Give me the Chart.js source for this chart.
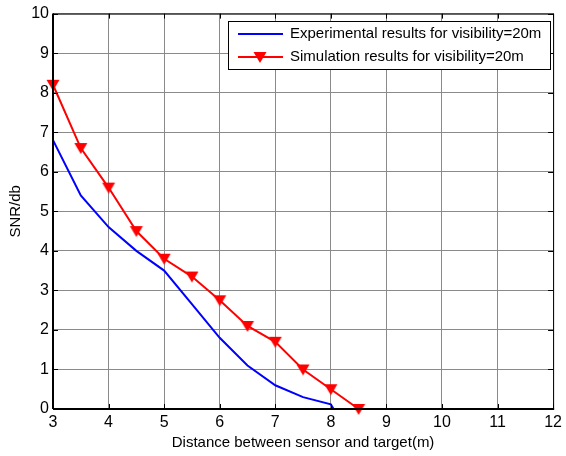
<!DOCTYPE html>
<html><head><meta charset="utf-8">
<script src="https://cdn.jsdelivr.net/npm/chart.js@4"></script>
<style>html,body{margin:0;padding:0;background:#fff}#wrap{width:566px;height:456px}</style>
</head><body><div id="wrap"><canvas id="c" width="566" height="456"></canvas></div>
<script>
const expX = [3, 3.5, 4, 4.5, 5, 5.5, 6, 6.5, 7, 7.5, 8, 8.05];
const expY = [6.8, 5.4, 4.6, 4.0, 3.5, 2.65, 1.8, 1.1, 0.6, 0.3, 0.12, 0];
const simX = [3, 3.5, 4, 4.5, 5, 5.5, 6, 6.5, 7, 7.5, 8, 8.5];
const simY = [8.2, 6.6, 5.6, 4.5, 3.8, 3.35, 2.75, 2.1, 1.7, 1.0, 0.5, 0];
const labels = ["Experimental results for visibility=20m", "Simulation results for visibility=20m"];
const xTitle = "Distance between sensor and target(m)";
const yTitle = "SNR/db";

const FONT = "'Liberation Sans', Arial, sans-serif";

const boxPlugin = {
  id: 'box',
  afterDatasetsDraw(chart) {
    const {ctx, chartArea: a, scales} = chart;
    ctx.save();
    ctx.strokeStyle = '#000';
    ctx.lineWidth = 1;
    ctx.strokeRect(a.left + 0.5, a.top + 0.5, a.right - a.left, a.bottom - a.top);
    ctx.beginPath();
    scales.x.ticks.forEach(t => {
      const x = Math.round(scales.x.getPixelForValue(t.value)) + 0.5;
      ctx.moveTo(x, a.bottom); ctx.lineTo(x, a.bottom - 5);
      ctx.moveTo(x, a.top); ctx.lineTo(x, a.top + 5);
    });
    scales.y.ticks.forEach(t => {
      const y = Math.round(scales.y.getPixelForValue(t.value)) + 0.5;
      ctx.moveTo(a.left, y); ctx.lineTo(a.left + 5, y);
      ctx.moveTo(a.right, y); ctx.lineTo(a.right - 5, y);
    });
    ctx.stroke();
    ctx.lineWidth = 2;
    ctx.beginPath();
    ctx.moveTo(a.left, a.bottom); ctx.lineTo(a.right + 1, a.bottom);
    ctx.moveTo(a.left, a.top); ctx.lineTo(a.left, a.bottom);
    ctx.stroke();
    // legend
    const lx = 228, ly = 21, lw = 322, lh = 48;
    ctx.lineWidth = 1;
    ctx.fillStyle = '#fff';
    ctx.fillRect(lx, ly, lw, lh);
    ctx.strokeRect(lx + 0.5, ly + 0.5, lw, lh);
    ctx.font = '15px ' + FONT;
    ctx.textBaseline = 'middle';
    const rows = [[34, 'blue', false], [57, 'red', true]];
    rows.forEach((r, i) => {
      ctx.strokeStyle = r[1]; ctx.lineWidth = 2;
      ctx.beginPath(); ctx.moveTo(238, r[0]); ctx.lineTo(283, r[0]); ctx.stroke();
      if (r[2]) {
        ctx.fillStyle = 'red';
        ctx.beginPath(); ctx.moveTo(253.5, r[0] - 5); ctx.lineTo(266.5, r[0] - 5); ctx.lineTo(260, r[0] + 6); ctx.closePath(); ctx.fill();
      }
      ctx.fillStyle = '#000';
      ctx.fillText(labels[i], 290, r[0]);
    });
    ctx.restore();
  }
};

const tri = document.createElement('canvas');
tri.width = 16; tri.height = 16;
{ const t = tri.getContext('2d'); t.fillStyle = 'red'; t.beginPath(); t.moveTo(1.5, 3); t.lineTo(14.5, 3); t.lineTo(8, 14); t.closePath(); t.fill(); }

new Chart(document.getElementById('c'), {
  type: 'line',
  data: {
    datasets: [
      { label: labels[0], data: expX.map((x, i) => ({x, y: expY[i]})), borderColor: 'blue', borderWidth: 2, pointRadius: 0, tension: 0, clip: false },
      { label: labels[1], data: simX.map((x, i) => ({x, y: simY[i]})), borderColor: 'red', backgroundColor: 'red', borderWidth: 2, pointStyle: tri, pointRadius: 8, tension: 0, clip: false }
    ]
  },
  options: {
    responsive: false, animation: false,
    layout: { padding: { left: 0, top: 13, right: 9, bottom: 0 } },
    plugins: { legend: { display: false }, tooltip: { enabled: false } },
    scales: {
      x: {
        type: 'linear', min: 3, max: 12,
        ticks: { stepSize: 1, color: '#000', font: { size: 16, family: FONT }, padding: 4, maxRotation: 0 },
        grid: { color: '#8a8a8a', lineWidth: 1, drawTicks: false },
        border: { display: false },
        title: { display: true, text: xTitle, color: '#000', font: { size: 15, family: FONT }, padding: { top: 0, bottom: 4 } },
        afterFit(s) { s.height = 47; }
      },
      y: {
        min: 0, max: 10,
        ticks: { stepSize: 1, color: '#000', font: { size: 16, family: FONT }, padding: 4 },
        grid: { color: '#8a8a8a', lineWidth: 1, drawTicks: false },
        border: { display: false },
        title: { display: true, text: yTitle, color: '#000', font: { size: 15, family: FONT }, padding: { top: 7, bottom: 0 } },
        afterFit(s) { s.width = 53; }
      }
    }
  },
  plugins: [boxPlugin]
});
</script>
</body></html>
